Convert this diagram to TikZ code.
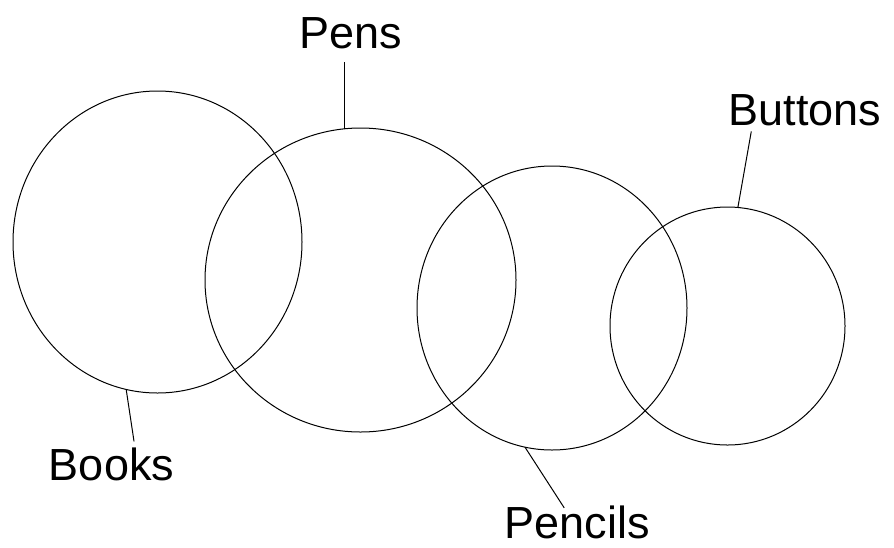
\documentclass[tikz,border=0pt]{standalone}
\usepackage{fontspec}
\setmainfont{Liberation Sans}
\usepackage{tikz}
\usetikzlibrary{positioning, shapes.geometric}

\begin{document}
\begin{tikzpicture}[x=1pt, y=-1pt,
  ring/.style={ellipse, draw=black, line width=1pt, inner sep=0pt, outer sep=0pt},
  tag/.style={anchor=base, inner sep=6pt, outer sep=0pt, font=\fontsize{45}{54}\selectfont},
  lead/.style={draw=black, line width=1pt}
]
  \useasboundingbox (0,0) rectangle (894,547);

  \node[ring, minimum width=289pt, minimum height=302pt] (books) at (157.5,242) {};
  \node[ring, minimum width=311pt, minimum height=304pt] (pens) at (360.5,280) {};
  \node[ring, minimum width=270pt, minimum height=284pt] (pencils) at (552,308) {};
  \node[ring, minimum width=235pt, minimum height=238pt] (buttons) at (727.5,326) {};

  \node[tag] (pensl) at (350.5,48) {Pens};
  \node[tag] (buttonsl) at (805,125) {Buttons};
  \node[tag] (booksl) at (111.5,480) {Books};
  \node[tag] (pencilsl) at (577,538) {Pencils};

  \draw[lead, shorten >=8pt] (pens.96.6) -- (pens.96.6 |- pensl.south);
  \draw[lead] (buttons.85.4) -- (buttonsl.202);
  \draw[lead] (books.258.4) -- (booksl.45);
  \draw[lead, shorten >=-10pt] (pencils.259.9) -- (pencilsl.129);
\end{tikzpicture}
\end{document}
